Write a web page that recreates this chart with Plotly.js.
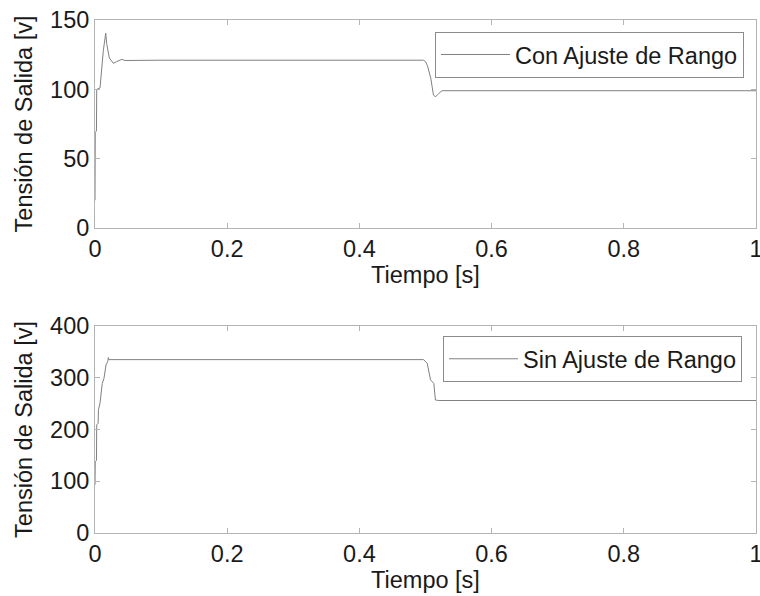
<!DOCTYPE html>
<html>
<head>
<meta charset="utf-8">
<script src="https://cdn.plot.ly/plotly-3.0.1.min.js"></script>
<style>html,body{margin:0;padding:0;background:#fff;}#chart{width:760px;height:596px;}</style>
</head>
<body>
<div id="chart"></div>
<script>
// Top plot: Con Ajuste de Rango
const tCon = [0, 0.0004, 0.0022, 0.0026, 0.0076, 0.009, 0.0126, 0.0162, 0.0177, 0.0217, 0.0277, 0.0329, 0.0405, 0.0455, 0.1, 0.497, 0.5, 0.503, 0.508, 0.512, 0.515, 0.52, 0.525, 1];
const vCon = [20, 69, 70, 100, 101, 109, 128, 140.5, 133, 122.6, 118.8, 120, 121.6, 120.8, 121, 121, 120, 117, 108, 96, 94.5, 97, 99, 99];
// Bottom plot: Sin Ajuste de Rango
const tSin = [0, 0.0004, 0.0022, 0.0026, 0.0048, 0.0052, 0.0076, 0.009, 0.011, 0.0136, 0.0152, 0.0167, 0.0192, 0.0202, 0.021, 0.497, 0.5026, 0.5076, 0.5126, 0.515, 0.52, 1];
const vSin = [93, 138, 140, 209, 212, 238, 251, 273, 289, 299, 309, 325, 331, 339, 335, 335, 328, 296, 289, 257, 256, 256];

const xTickVals = [0, 0.2, 0.4, 0.6, 0.8, 1];
const xTickText = ['0', '0.2', '0.4', '0.6', '0.8', '1'];

const nameCon = 'Con Ajuste de Rango';
const nameSin = 'Sin Ajuste de Rango';
const xTitle = 'Tiempo [s]';
const yTitle = 'Tensión de Salida [v]';

const fontFam = 'Liberation Sans, Arial, sans-serif';
const fs = 23.5;
const lineStyle = {color: '#808080', width: 1};

const traces = [
  {x: tCon, y: vCon, type: 'scatter', mode: 'lines', name: nameCon, line: lineStyle, xaxis: 'x', yaxis: 'y', legend: 'legend'},
  {x: tSin, y: vSin, type: 'scatter', mode: 'lines', name: nameSin, line: lineStyle, xaxis: 'x2', yaxis: 'y2', legend: 'legend2'}
];

const axisCommon = {
  showline: true, mirror: 'ticks', linecolor: '#b4b4b4', linewidth: 1,
  ticks: 'inside', ticklen: 5, tickcolor: '#b4b4b4',
  showgrid: false, zeroline: false, ticklabeloverflow: 'allow',
  tickfont: {family: fontFam, size: fs, color: '#1a1a1a'}
};

const xd = [95/760, 756/760];
function xAx(anchor) {
  return Object.assign({}, axisCommon, {domain: xd, anchor: anchor, range: [0, 1],
    tickmode: 'array', tickvals: xTickVals, ticktext: xTickText,
    title: {text: xTitle, font: {family: fontFam, size: fs}, standoff: 3}});
}
const layout = {
  width: 760, height: 596,
  margin: {l: 0, r: 0, t: 0, b: 0},
  paper_bgcolor: '#fff', plot_bgcolor: '#fff',
  font: {family: fontFam, color: '#1a1a1a'},
  showlegend: true,
  xaxis: xAx('y'),
  yaxis: Object.assign({}, axisCommon, {domain: [1 - 228/596, 1 - 20/596], anchor: 'x', range: [0, 150], dtick: 50,
    title: {text: yTitle, font: {family: fontFam, size: fs}, standoff: 10}}),
  xaxis2: xAx('y2'),
  yaxis2: Object.assign({}, axisCommon, {domain: [1 - 533/596, 1 - 326/596], anchor: 'x2', range: [0, 400], dtick: 100,
    title: {text: yTitle, font: {family: fontFam, size: fs}, standoff: 10}}),
  legend: {x: 435/760, y: 1 - 31.7/596, xanchor: 'left', yanchor: 'top', bordercolor: '#8c8c8c', borderwidth: 1,
    bgcolor: '#fff', font: {family: fontFam, size: fs, color: '#1a1a1a'}, itemwidth: 69},
  legend2: {x: 443/760, y: 1 - 336/596, xanchor: 'left', yanchor: 'top', bordercolor: '#8c8c8c', borderwidth: 1,
    bgcolor: '#fff', font: {family: fontFam, size: fs, color: '#1a1a1a'}, itemwidth: 69}
};

Plotly.newPlot('chart', traces, layout, {displayModeBar: false, staticPlot: true});
</script>
</body>
</html>
